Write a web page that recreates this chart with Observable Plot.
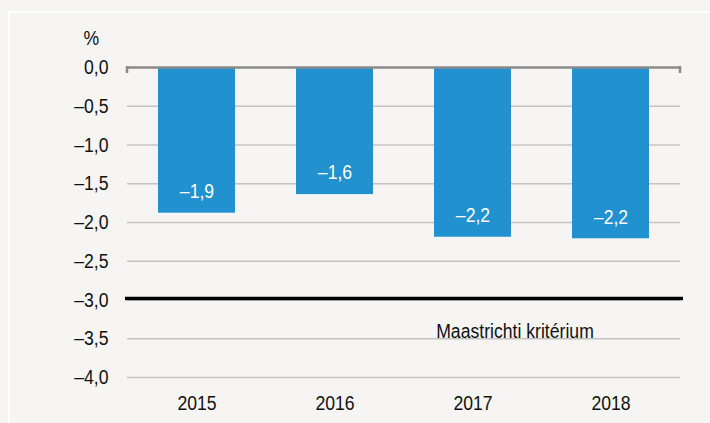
<!DOCTYPE html>
<html>
<head>
<meta charset="utf-8">
<script src="https://cdn.jsdelivr.net/npm/d3@7"></script>
<script src="https://cdn.jsdelivr.net/npm/@observablehq/plot@0.6"></script>
<style>
  html, body { margin: 0; padding: 0; background: #f6f5f3; }
  #wrap { position: relative; width: 710px; height: 423px; overflow: hidden; }
  #frame { position: absolute; left: 8px; top: 11px; right: -10px; bottom: -10px;
           border-top: 2px solid #ffffff; border-left: 2px solid #ffffff; }
  #chart { position: absolute; left: 0; top: 0; }
  svg { font-family: "Liberation Sans", Arial, sans-serif; }
</style>
</head>
<body>
<div id="wrap"><div id="frame"></div><div id="chart"></div></div>
<script>
const years = ["2015", "2016", "2017", "2018"];
const values = [-1.88, -1.64, -2.19, -2.21];
const valueLabels = ["–1,9", "–1,6", "–2,2", "–2,2"];
const yTicks = [0, -0.5, -1, -1.5, -2, -2.5, -3, -3.5, -4];
const criterion = [-3];
const criterionLabel = "Maastrichti kritérium";
const criterionYear = "2017";
const unitLabel = "%";

const data = years.map((y, i) => ({year: y, value: values[i], label: valueLabels[i]}));
const fmt = d => (d < 0 ? "–" : "") + Math.abs(d).toFixed(1).replace(".", ",");
const FS = 21;

const plot = Plot.plot({
  width: 710,
  height: 423,
  marginLeft: 127,
  marginRight: 30,
  marginTop: 67,
  marginBottom: 46,
  style: {background: "transparent", fontSize: FS + "px", color: "#111"},
  x: {domain: years, paddingInner: 0.44, paddingOuter: 0.22, label: null, tickSize: 0, tickPadding: 18},
  y: {domain: [-4, 0], ticks: yTicks, tickFormat: fmt, label: null, tickSize: 0, tickPadding: 19},
  marks: [
    Plot.gridY(yTicks.filter(d => d !== 0), {stroke: "#c4c4c4", strokeOpacity: 1, strokeWidth: 1.5}),
    Plot.barY(data, {x: "year", y: "value", fill: "#2291d0"}),
    Plot.ruleY([0], {stroke: "#8a8a8a", strokeWidth: 2.5}),
    Plot.ruleY(criterion, {stroke: "#000", strokeWidth: 3.5, dy: -1.5, insetLeft: -2, insetRight: -3}),
    Plot.text(data, {x: "year", y: "value", text: "label", fill: "white", dy: -22, fontSize: FS, lineAnchor: "middle"}),
    Plot.text([{year: criterionYear, value: criterion[0], label: criterionLabel}],
      {x: "year", y: "value", text: "label", dx: 42, dy: 31, fontSize: FS, fill: "#111", lineAnchor: "middle"}),
    Plot.text([unitLabel], {frameAnchor: "top-left", dx: -44, dy: -37, fontSize: FS, fill: "#111"})
  ]
});
document.getElementById("chart").appendChild(plot);

// end ticks on the zero line
const ys = plot.scale("y"), xr = plot.scale("x").range;
const y0 = ys.apply(0);
const svg = d3.select(plot);
for (const xe of [127, 680]) {
  svg.append("line").attr("x1", xe).attr("x2", xe).attr("y1", y0 - 1).attr("y2", y0 + 6)
    .attr("stroke", "#8a8a8a").attr("stroke-width", 2.5);
}

// condense text horizontally (narrow typeface look)
const S = 0.84;
plot.querySelectorAll("text").forEach(t => {
  const b = t.getBBox();
  const anchor = getComputedStyle(t).textAnchor || t.getAttribute("text-anchor") || "start";
  let ax = b.x;
  if (anchor === "middle") ax = b.x + b.width / 2;
  else if (anchor === "end") ax = b.x + b.width;
  const prev = t.getAttribute("transform") || "";
  t.setAttribute("transform", `${prev} translate(${ax},0) scale(${S},1) translate(${-ax},0)`);
});
</script>
</body>
</html>
